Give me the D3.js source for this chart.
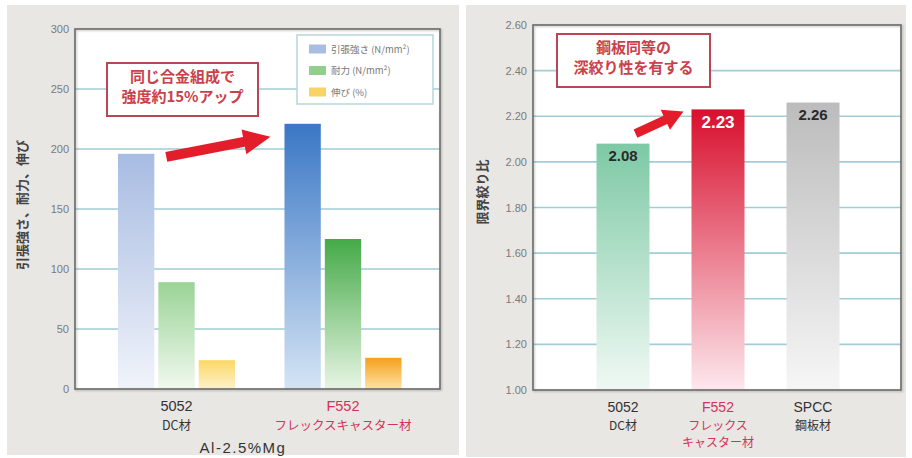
<!DOCTYPE html>
<html><head><meta charset="utf-8">
<script src="https://cdn.jsdelivr.net/npm/d3@7"></script>
<style>body{margin:0;background:#fff;} svg{display:block;font-family:"Noto Sans CJK JP","Noto Sans",sans-serif;}</style>
</head><body><svg id="c" width="912" height="458"></svg>
<script>
// ---------- data ----------
const leftCategories = ["5052", "F552"];
const leftCatLine2 = ["DC材", "フレックスキャスター材"];
const leftSeries = ["引張強さ (N/mm²)", "耐力 (N/mm²)", "伸び (%)"];
const tensile = [196, 221];
const proof = [89, 125];
const elong = [24, 26];
const leftTicks = [0, 50, 100, 150, 200, 250, 300];
const leftXTitle = "Al-2.5%Mg";
const leftYTitle = "引張強さ、耐力、伸び";
const leftNote = ["同じ合金組成で", "強度約15%アップ"];

const rightCategories = ["5052", "F552", "SPCC"];
const rightCatLines = [["DC材"], ["フレックス", "キャスター材"], ["鋼板材"]];
const ldr = [2.08, 2.23, 2.26];
const rightTicks = [1.00, 1.20, 1.40, 1.60, 1.80, 2.00, 2.20, 2.40, 2.60];
const rightYTitle = "限界絞り比";
const rightNote = ["鋼板同等の", "深絞り性を有する"];

// ---------- styles ----------
const legendColors = ["#a9bde3", "#92cf8d", "#f8d466"];
const leftGrad = [ // [category][series] -> [top,bottom]
  [["#a8bce2", "#f0f3fa"], ["#9ad396", "#f1f9ef"], ["#fbd865", "#fdf2cc"]],
  [["#3a77c5", "#d5e4f4"], ["#44aa47", "#e7f5e3"], ["#f5a01b", "#fde3a6"]]
];
const rightGrad = [["#7dc9a5", "#f0f9f4"], ["#d80f2d", "#fde8ed"], ["#bcbcbc", "#f6f6f6"]];
const catColors = ["#333", "#d2325a", "#333"];
const noteColor = "#c9414a";
const gridColor = "#a2cdd6";
const panelBg = "#e9e7e4";

const svg = d3.select("#c");
const defs = svg.append("defs");
function grad(id, c) {
  const g = defs.append("linearGradient").attr("id", id).attr("x1", 0).attr("y1", 0).attr("x2", 0).attr("y2", 1);
  g.append("stop").attr("offset", "0%").attr("stop-color", c[0]);
  g.append("stop").attr("offset", "100%").attr("stop-color", c[1]);
}
leftGrad.forEach((cs, i) => cs.forEach((c, j) => grad(`lg${i}_${j}`, c)));
rightGrad.forEach((c, i) => grad(`rg${i}`, c));
const sh = defs.append("filter").attr("id", "sh").attr("x", "-5%").attr("y", "-5%").attr("width", "110%").attr("height", "110%");
sh.append("feDropShadow").attr("dx", 1).attr("dy", 1).attr("stdDeviation", 1).attr("flood-color", "#000").attr("flood-opacity", 0.25);

function arrow(g, x1, y1, x2, y2, w, hw, hl, color) {
  const dx = x2 - x1, dy = y2 - y1, L = Math.hypot(dx, dy);
  const ux = dx / L, uy = dy / L, nx = -uy, ny = ux;
  const bx = x2 - ux * hl, by = y2 - uy * hl;
  const pts = [
    [x1 + nx * w / 2, y1 + ny * w / 2], [bx + nx * w / 2, by + ny * w / 2], [bx + nx * hw / 2, by + ny * hw / 2],
    [x2, y2], [bx - nx * hw / 2, by - ny * hw / 2], [bx - nx * w / 2, by - ny * w / 2], [x1 - nx * w / 2, y1 - ny * w / 2]
  ];
  g.append("path").attr("d", "M" + pts.map(p => p.join(",")).join("L") + "Z").attr("fill", color);
}

function note(g, x, y, w, h, lines, fs) {
  g.append("rect").attr("x", x).attr("y", y).attr("width", w).attr("height", h)
    .attr("fill", "#fff").attr("stroke", "#bb4555").attr("stroke-width", 2);
  lines.forEach((t, i) => g.append("text").attr("x", x + w / 2).attr("y", y + h / 2 - 4 + (i - 0.5) * (fs + 5) + fs * 0.4)
    .attr("text-anchor", "middle").attr("font-size", fs).attr("font-weight", "bold").attr("fill", noteColor).text(t));
}

// ================= LEFT CHART =================
{
  const L = { l: 75, r: 440, t: 29, b: 389 };
  svg.append("rect").attr("x", 7).attr("y", 5).attr("width", 452).attr("height", 450).attr("fill", panelBg);
  const g = svg.append("g");
  const y = d3.scaleLinear().domain([0, 300]).range([L.b, L.t]);
  const x0 = d3.scaleBand().domain(leftCategories).range([118, 401.5]).paddingInner(0.297).paddingOuter(0);
  const x1 = d3.scaleBand().domain(leftSeries).range([0, x0.bandwidth()]).paddingInner(0.1).paddingOuter(0);
  g.append("rect").attr("x", L.l).attr("y", L.t).attr("width", L.r - L.l).attr("height", L.b - L.t).attr("fill", "#fff");
  g.selectAll(".gl").data(leftTicks.filter(t => t > 0 && t < 300)).join("line")
    .attr("x1", L.l).attr("x2", L.r).attr("y1", d => y(d)).attr("y2", d => y(d))
    .attr("stroke", gridColor).attr("stroke-width", 1.6);
  const seriesVals = [tensile, proof, elong];
  leftCategories.forEach((c, i) => {
    seriesVals.forEach((vals, j) => {
      g.append("rect").attr("x", x0(c) + x1(leftSeries[j])).attr("y", y(vals[i]))
        .attr("width", x1.bandwidth()).attr("height", y(0) - y(vals[i])).attr("fill", `url(#lg${i}_${j})`);
    });
  });
  g.append("rect").attr("x", L.l).attr("y", L.t).attr("width", L.r - L.l).attr("height", L.b - L.t)
    .attr("fill", "none").attr("stroke", "#6a6a6a").attr("stroke-width", 1.6).attr("filter", "url(#sh)");
  const ax = g.append("g").attr("transform", `translate(${L.l},0)`)
    .call(d3.axisLeft(y).tickValues(leftTicks).tickSize(0).tickPadding(6));
  ax.select(".domain").remove();
  ax.selectAll("text").attr("font-size", 11).attr("fill", "#7a7a7a").attr("font-family", "'Liberation Sans Narrow','Liberation Sans',sans-serif");
  leftCategories.forEach((c, i) => {
    const cx = x0(c) + x0.bandwidth() / 2;
    g.append("text").attr("x", cx).attr("y", 411).attr("text-anchor", "middle").attr("font-size", 14.5)
      .attr("fill", catColors[i]).attr("font-family", "'Liberation Sans',sans-serif").text(c);
    g.append("text").attr("x", cx).attr("y", 429.5).attr("text-anchor", "middle").attr("font-size", 12.5)
      .attr("fill", catColors[i]).text(leftCatLine2[i]);
  });
  g.append("text").attr("x", 243).attr("y", 453).attr("text-anchor", "middle").attr("font-size", 15)
    .attr("letter-spacing", 1.5).attr("fill", "#333").attr("font-family", "'Liberation Sans',sans-serif").text(leftXTitle);
  g.append("text").attr("transform", "translate(27,205) rotate(-90)").attr("text-anchor", "middle")
    .attr("font-size", 13).attr("font-weight", "bold").attr("fill", "#444").text(leftYTitle);
  const lg = g.append("g");
  lg.append("rect").attr("x", 297).attr("y", 35).attr("width", 136).attr("height", 69)
    .attr("fill", "#fff").attr("stroke", "#b7d6dc").attr("stroke-width", 1.5);
  leftSeries.forEach((s, j) => {
    const yy = 49 + j * 21.5;
    lg.append("rect").attr("x", 309).attr("y", yy - 4.5).attr("width", 17).attr("height", 9).attr("fill", legendColors[j]);
    lg.append("text").attr("x", 331).attr("y", yy + 3.5).attr("font-size", 9.5).attr("fill", "#777").text(s);
  });
  note(g, 107, 63, 151, 53, leftNote, 15);
  const bx = x0(leftCategories[0]) + x1(leftSeries[0]) + x1.bandwidth();
  arrow(g, bx + 12, y(tensile[0]) + 3, x0(leftCategories[1]) - 14, y(tensile[1]) + 13, 10, 25, 27, "#e31e2a");
}

// ================= RIGHT CHART =================
{
  const R = { l: 533, r: 901, t: 25, b: 390 };
  svg.append("rect").attr("x", 466).attr("y", 5).attr("width", 440).attr("height", 452).attr("fill", panelBg);
  const g = svg.append("g");
  const y = d3.scaleLinear().domain([1.0, 2.6]).range([R.b, R.t]);
  const x = d3.scaleBand().domain(rightCategories).range([596.5, 839.5]).paddingInner(0.442).paddingOuter(0);
  g.append("rect").attr("x", R.l).attr("y", R.t).attr("width", R.r - R.l).attr("height", R.b - R.t).attr("fill", "#fff");
  g.selectAll(".gl").data(rightTicks.filter(t => t > 1.0 && t < 2.6)).join("line")
    .attr("x1", R.l).attr("x2", R.r).attr("y1", d => y(d)).attr("y2", d => y(d))
    .attr("stroke", gridColor).attr("stroke-width", 1.6);
  rightCategories.forEach((c, i) => {
    g.append("rect").attr("x", x(c)).attr("y", y(ldr[i])).attr("width", x.bandwidth())
      .attr("height", y(1.0) - y(ldr[i])).attr("fill", `url(#rg${i})`);
    g.append("text").attr("x", x(c) + x.bandwidth() / 2).attr("y", y(ldr[i]) + (i === 1 ? 19 : 17))
      .attr("text-anchor", "middle").attr("font-size", i === 1 ? 17 : 15).attr("font-weight", "bold")
      .attr("font-family", "'Liberation Sans',sans-serif")
      .attr("fill", i === 1 ? "#fff" : "#2a2a2a").text(ldr[i].toFixed(2));
  });
  g.append("rect").attr("x", R.l).attr("y", R.t).attr("width", R.r - R.l).attr("height", R.b - R.t)
    .attr("fill", "none").attr("stroke", "#6a6a6a").attr("stroke-width", 1.6).attr("filter", "url(#sh)");
  const ax = g.append("g").attr("transform", `translate(${R.l},0)`)
    .call(d3.axisLeft(y).tickValues(rightTicks).tickFormat(d3.format(".2f")).tickSize(0).tickPadding(6));
  ax.select(".domain").remove();
  ax.selectAll("text").attr("font-size", 11).attr("fill", "#7a7a7a").attr("font-family", "'Liberation Sans Narrow','Liberation Sans',sans-serif");
  rightCategories.forEach((c, i) => {
    const cx = x(c) + x.bandwidth() / 2;
    g.append("text").attr("x", cx).attr("y", 412).attr("text-anchor", "middle").attr("font-size", 14)
      .attr("fill", catColors[i]).attr("font-family", "'Liberation Sans',sans-serif").text(c);
    rightCatLines[i].forEach((t, k) => g.append("text").attr("x", cx).attr("y", 430 + k * 16.5)
      .attr("text-anchor", "middle").attr("font-size", 12).attr("fill", catColors[i]).text(t));
  });
  g.append("text").attr("transform", "translate(487,192) rotate(-90)").attr("text-anchor", "middle")
    .attr("font-size", 13).attr("font-weight", "bold").attr("fill", "#444").text(rightYTitle);
  note(g, 557, 34, 153, 53, rightNote, 15);
  arrow(g, x(rightCategories[0]) + x.bandwidth() - 14, y(ldr[0]) - 10, x(rightCategories[1]) - 8, y(ldr[1]) + 2, 9, 22, 20, "#e31e2a");
}
</script></body></html>
